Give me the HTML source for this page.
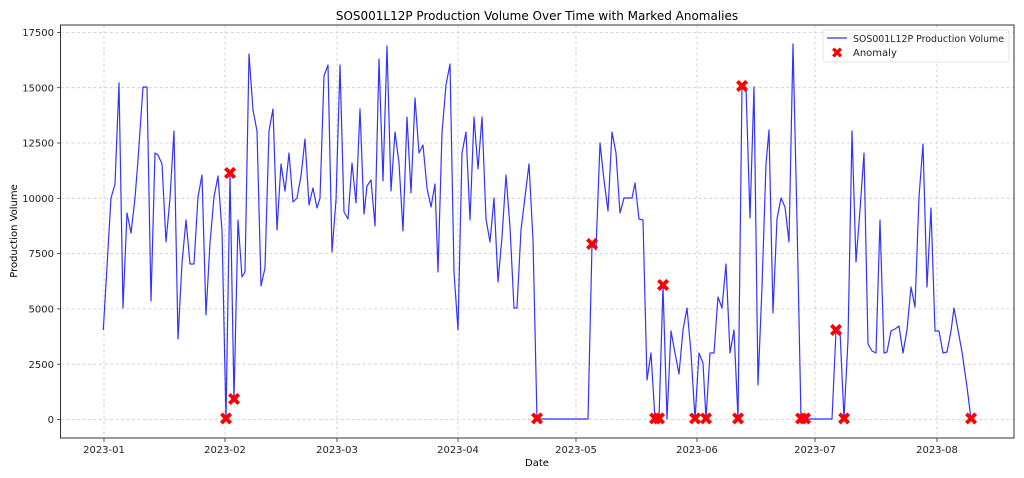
<!DOCTYPE html>
<html><head><meta charset="utf-8"><style>
html,body{margin:0;padding:0;background:#fff;}
svg{display:block;font-family:"DejaVu Sans","Liberation Sans",sans-serif;}
</style></head><body>
<svg width="1024" height="478" viewBox="0 0 1024 478" xmlns="http://www.w3.org/2000/svg">
<rect width="1024" height="478" fill="#fff"/>
<g stroke="#cccccc" stroke-width="0.8" stroke-dasharray="3,2.5">
<line x1="104" y1="25" x2="104" y2="438"/><line x1="225" y1="25" x2="225" y2="438"/><line x1="337" y1="25" x2="337" y2="438"/><line x1="458" y1="25" x2="458" y2="438"/><line x1="576" y1="25" x2="576" y2="438"/><line x1="697" y1="25" x2="697" y2="438"/><line x1="815" y1="25" x2="815" y2="438"/><line x1="937" y1="25" x2="937" y2="438"/>
<line x1="60.5" y1="419.5" x2="1014" y2="419.5"/><line x1="60.5" y1="364.2" x2="1014" y2="364.2"/><line x1="60.5" y1="308.9" x2="1014" y2="308.9"/><line x1="60.5" y1="253.6" x2="1014" y2="253.6"/><line x1="60.5" y1="198.3" x2="1014" y2="198.3"/><line x1="60.5" y1="143" x2="1014" y2="143"/><line x1="60.5" y1="87.7" x2="1014" y2="87.7"/><line x1="60.5" y1="32.5" x2="1014" y2="32.5"/>
</g>
<polyline fill="none" stroke="#0000ff" stroke-opacity="0.8" stroke-width="1.2" stroke-linejoin="round" points="103.3,330 111,198 115,184 119,83 123,308 127,213 131,233 135,198 138,160 143,87 147,87 151,301 155,153 158,155 162,164 166,242 170,198 174,131 178,339 182,263 186,220 190,264 194,264 198,197 202,175 206,315 210,243 214,197 218,176 222,231 226,419 230,174 234,400 238,220 242,277 245,272 249,54 253,110 257,131 261,286 265,268 269,131 273,109 277,230 281,164 285,191 289,153 293,202 297,198 301,176 305,139 309,205 313,188 317,208 320,198 324,76 328,65 332,252 336,200 340,65 344,212 348,219 352,163 356,203 360,109 364,214 367,186 371,180 375,226 379,59 383,181 387,46 391,191 395,132 399,163 403,231 407,117 411,193 415,98 419,153 423,145 427,188 431,207 435,184 438,272 442,133 446,85 450,64 454,272 458,330 462,153 466,132 470,220 474,117 478,169 482,117 486,219 490,242 494,198 498,282 502,237 506,175 510,227 514,308 517,308 521,230 525,197 529,164 533,240 537,419 588,419 592,245 596,250 600,143 604,180 608,211 612,132 616,153 620,213 624,198 628,198 632,198 635,183 639,219 643,220 647,380 651,353 655,419 659,419 663,286 667,419 671,331 675,353 679,374 683,330 687,308 691,353 695,419 699,353 703,363 706,419 710,353 714,353 718,297 722,308 726,264 730,353 734,330 738,419 742,87 746,87 750,218 754,87 758,385 762,287 766,164 769,130 773,313 777,219 781,198 785,207 789,242 793,44 797,220 801,419 805,419 832,419 836,331 840,331 844,419 848,340 852,131 856,262 860,210 864,153 868,344 872,351 876,353 880,220 884,353 887,352 891,331 895,329 899,326 903,353 907,330 911,287 915,307 919,197 923,144 927,287 931,208 935,331 939,331 943,353 947,352 951,331 954,308 958,330 962,352 967,387 971,419"/>
<g fill="#ff0000" font-size="18" font-weight="bold" text-anchor="middle" dominant-baseline="central">
<text x="226" y="419.5">✖</text><text x="230" y="174">✖</text><text x="234" y="400">✖</text><text x="537" y="419.5">✖</text><text x="592" y="245">✖</text><text x="655" y="419.5">✖</text><text x="659" y="419.5">✖</text><text x="663" y="286">✖</text><text x="695" y="419.5">✖</text><text x="706" y="419.5">✖</text><text x="738" y="419.5">✖</text><text x="742" y="87">✖</text><text x="801" y="419.5">✖</text><text x="805" y="419.5">✖</text><text x="836" y="331">✖</text><text x="844" y="419.5">✖</text><text x="971" y="419.5">✖</text>
</g>
<rect x="60.5" y="25" width="953.5" height="413" fill="none" stroke="#333" stroke-width="1"/>
<g stroke="#333" stroke-width="0.8">
<line x1="104" y1="438" x2="104" y2="442"/><line x1="225" y1="438" x2="225" y2="442"/><line x1="337" y1="438" x2="337" y2="442"/><line x1="458" y1="438" x2="458" y2="442"/><line x1="576" y1="438" x2="576" y2="442"/><line x1="697" y1="438" x2="697" y2="442"/><line x1="815" y1="438" x2="815" y2="442"/><line x1="937" y1="438" x2="937" y2="442"/>
<line x1="57" y1="419.5" x2="60.5" y2="419.5"/><line x1="57" y1="364.2" x2="60.5" y2="364.2"/><line x1="57" y1="308.9" x2="60.5" y2="308.9"/><line x1="57" y1="253.6" x2="60.5" y2="253.6"/><line x1="57" y1="198.3" x2="60.5" y2="198.3"/><line x1="57" y1="143" x2="60.5" y2="143"/><line x1="57" y1="87.7" x2="60.5" y2="87.7"/><line x1="57" y1="32.5" x2="60.5" y2="32.5"/>
</g>
<g font-size="10" fill="#222" text-anchor="middle">
<text x="104" y="453">2023-01</text><text x="225" y="453">2023-02</text><text x="337" y="453">2023-03</text><text x="458" y="453">2023-04</text><text x="576" y="453">2023-05</text><text x="697" y="453">2023-06</text><text x="815" y="453">2023-07</text><text x="937" y="453">2023-08</text>
</g>
<g font-size="10" fill="#222" text-anchor="end">
<text x="54" y="423">0</text><text x="54" y="368">2500</text><text x="54" y="312.5">5000</text><text x="54" y="257">7500</text><text x="54" y="202">10000</text><text x="54" y="146.5">12500</text><text x="54" y="91.5">15000</text><text x="54" y="36">17500</text>
</g>
<text x="537" y="466" font-size="10" fill="#000" text-anchor="middle">Date</text>
<text x="17" y="231" font-size="10" fill="#000" text-anchor="middle" transform="rotate(-90 17 231)">Production Volume</text>
<text x="537" y="20" font-size="12" fill="#000" text-anchor="middle">SOS001L12P Production Volume Over Time with Marked Anomalies</text>
<rect x="823" y="30" width="186" height="32" rx="2" fill="#fff" fill-opacity="0.8" stroke="#ddd" stroke-width="0.8"/>
<line x1="827" y1="38" x2="847" y2="38" stroke="#0000ff" stroke-opacity="0.8" stroke-width="1.2"/>
<text x="853" y="42" font-size="10" fill="#222" textLength="151" lengthAdjust="spacingAndGlyphs">SOS001L12P Production Volume</text>
<text x="837" y="53" font-size="15" font-weight="bold" fill="#ff0000" text-anchor="middle" dominant-baseline="central">✖</text>
<text x="853" y="56" font-size="10" fill="#222">Anomaly</text>
</svg>
</body></html>
